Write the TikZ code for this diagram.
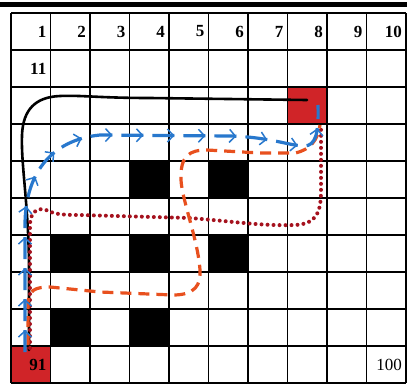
\documentclass[tikz,border=0pt]{standalone}
\usepackage{fontspec}
\setmainfont{Liberation Serif}
\usetikzlibrary{decorations.markings,arrows.meta}
\definecolor{cellred}{RGB}{208,36,40}
\definecolor{pathblue}{RGB}{40,120,205}
\definecolor{pathorange}{RGB}{232,80,30}
\definecolor{pathdark}{RGB}{165,18,30}
\tikzset{
  gridline/.style={line width=1.8pt,black},
  num/.style={anchor=east,inner sep=0pt,font=\fontsize{17}{19}\selectfont\bfseries},
  numlight/.style={anchor=east,inner sep=0pt,font=\fontsize{17}{19}\selectfont},
  blackpath/.style={line width=2.6pt,black,line cap=round},
  dotpath/.style={line width=4pt,pathdark,line cap=round,dash pattern=on 0pt off 6pt},
  orangepath/.style={line width=3.2pt,pathorange,dash pattern=on 11pt off 7pt},
  bluepath/.style={line width=3.2pt,pathblue,dash pattern=on 22pt off 9pt,
    postaction={decorate},
    decoration={markings,mark=between positions 22pt and -6pt step 31pt with {\arrow{Straight Barb[length=6pt,width=13pt,line width=1.5pt]}}}},
}
\begin{document}
\begin{tikzpicture}[x=1pt,y=-1pt]
\useasboundingbox (0,0) rectangle (407,389);
\fill[white] (0,0) rectangle (407,389);
% top bar
\fill[black] (0,1.5) rectangle (407,6.5);
% coloured cells
\fill[cellred] ({11+39.5*7},{13+37*2}) rectangle ++(39.5,37);
\fill[cellred] (11,{13+37*9}) rectangle ++(39.5,37);
\foreach \c/\r in {4/5,6/5,2/7,4/7,6/7,2/9,4/9}
  \fill[black] ({11+39.5*(\c-1)},{13+37*(\r-1)}) rectangle ++(39.5,37);
% grid
\foreach \i in {0,...,10}
  \draw[gridline] ({11+39.5*\i},13) -- ({11+39.5*\i},383);
\foreach \j in {0,...,10}
  \draw[gridline] (11,{13+37*\j}) -- (406,{13+37*\j});
% numbers
\foreach \i in {1,...,10}
  \node[num] (n\i) at ({11+39.5*\i-4},31.5) {\i};
\node[num] (n11) at ({11+39.5-4},68.5) {11};
\node[num] (n91) at ({11+39.5-4},364.5) {91};
\node[numlight] (n100) at (402,364.5) {100};
% paths
\draw[blackpath] (29,350) -- (29,262) .. controls (28,200) and (21,165) .. (22,135)
  .. controls (23,110) and (35,97) .. (60,96) .. controls (80,95) and (100,98) .. (150,98) -- (307,100);
\draw[dotpath] (30,348) -- (30,225) .. controls (30,212) and (38,207) .. (46,210)
  .. controls (55,214) and (60,215) .. (80,215) -- (190,218)
  .. controls (240,222) and (260,226) .. (295,225)
  .. controls (318,224) and (321,210) .. (321,190) -- (321,128);
\draw[orangepath] (28,345) -- (28,305) .. controls (28,290) and (35,287) .. (50,287)
  -- (100,292) -- (173,295) .. controls (195,295) and (201,285) .. (200,270)
  .. controls (198,240) and (182,200) .. (181,180)
  .. controls (180,155) and (190,150) .. (207,150) -- (260,153) -- (295,153)
  .. controls (310,150) and (318,140) .. (320,125);
\draw[bluepath] (25,352) -- (25,225) .. controls (25,175) and (50,140) .. (100,135)
  -- (230,136) .. controls (270,137) and (290,146) .. (305,146)
  .. controls (315,145) and (319,135) .. (318,105);
\end{tikzpicture}
\end{document}
